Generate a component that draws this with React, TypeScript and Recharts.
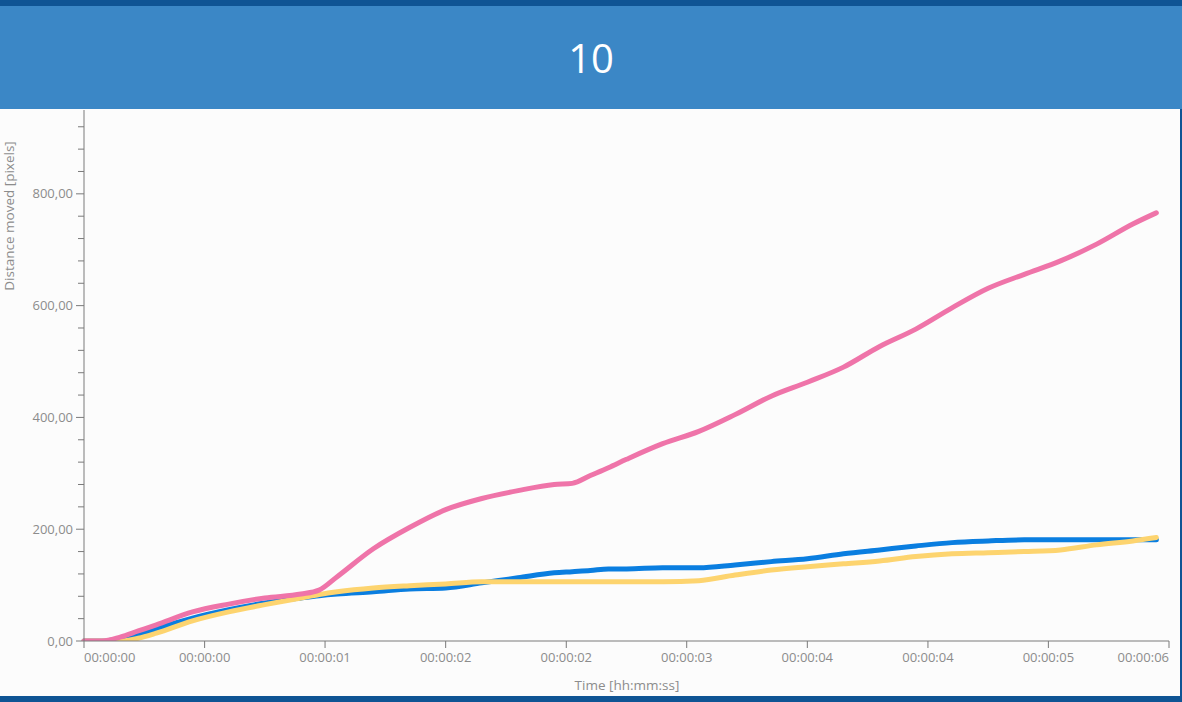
import { LineChart, Line, XAxis, YAxis, Label } from "recharts";

// time in seconds
const times = [
  0, 0.1, 0.2, 0.3, 0.4, 0.6, 0.8, 1.0, 1.2, 1.3, 1.4, 1.6, 1.8, 2.0, 2.2, 2.4, 2.6, 2.7,
  2.8, 2.9, 3.0, 3.2, 3.4, 3.6, 3.8, 4.0, 4.2, 4.4, 4.6, 4.8, 5.0, 5.2, 5.4, 5.6, 5.8, 5.93,
];

const pinkSeries = [
  0, 0, 7, 18, 29, 52, 66, 77, 84, 91, 115, 165, 203, 235, 255, 269, 280, 282,
  296, 310, 325, 353, 375, 405, 438, 463, 490, 527, 558, 596, 631, 656, 680, 710, 746, 766,
];

const blueSeries = [
  0, 0, 4, 11, 22, 41, 56, 68, 77, 81, 84, 88, 93, 95, 104, 113, 122, 124,
  126, 129, 129, 131, 131, 136, 142, 147, 156, 163, 170, 176, 179, 181, 181, 181, 181, 181,
];

const yellowSeries = [
  0, 0, 0, 5, 14, 36, 52, 65, 77, 83, 88, 95, 99, 102, 106, 106, 106, 106,
  106, 106, 106, 106, 108, 118, 127, 133, 138, 143, 151, 156, 158, 160, 163, 172, 179, 185,
];

const xTicks = [0, 0.667, 1.333, 2, 2.667, 3.333, 4, 4.667, 5.333, 6];
const xTickLabels = [
  "00:00:00", "00:00:00", "00:00:01", "00:00:02", "00:00:02",
  "00:00:03", "00:00:04", "00:00:04", "00:00:05", "00:00:06",
];

const yTicks = [
  0, 40, 80, 120, 160, 200, 240, 280, 320, 360, 400, 440, 480, 520, 560, 600, 640, 680,
  720, 760, 800, 840, 880, 920,
];

const data = times.map((t, i) => ({
  t,
  pink: pinkSeries[i],
  blue: blueSeries[i],
  yellow: yellowSeries[i],
}));

const FONT = "'Open Sans', 'Noto Sans', sans-serif";
const AXIS = "#7a7a7a";
const TEXT = "#8c8c8c";

const YTick = (props: any) => {
  const { x, y, payload } = props;
  const major = payload.value % 200 === 0;
  return (
    <g>
      <line x1={major ? x : x + 2} x2={x + 8} y1={y} y2={y} stroke={AXIS} strokeWidth={1} />
      {major && (
        <text
          x={x - 3}
          y={y}
          dy={4.5}
          textAnchor="end"
          fill={TEXT}
          fontSize={13}
          fontFamily={FONT}
        >
          {payload.value.toFixed(2).replace(".", ",")}
        </text>
      )}
    </g>
  );
};

const XTick = (props: any) => {
  const { x, y, payload, index } = props;
  const last = xTicks.length - 1;
  const anchor = index === 0 ? "start" : index === last ? "end" : "middle";
  return (
    <text
      x={x}
      y={y}
      dy={14}
      textAnchor={anchor}
      fill={TEXT}
      fontSize={13}
      fontFamily={FONT}
    >
      {xTickLabels[xTicks.indexOf(payload.value)] ?? ""}
    </text>
  );
};

export default function App() {
  return (
    <div
      style={{
        position: "absolute",
        left: 0,
        top: 0,
        width: 1182,
        height: 702,
        background: "#0f5494",
        overflow: "hidden",
      }}
    >
      <div
        style={{
          position: "absolute",
          left: 0,
          top: 6,
          width: 1182,
          height: 103,
          background: "#3b87c6",
          color: "#ffffff",
          fontFamily: "'Segoe UI', 'Open Sans', sans-serif",
          fontSize: 40,
          lineHeight: "103px",
          textAlign: "center",
        }}
      >
        10
      </div>
      <div
        style={{
          position: "absolute",
          left: 0,
          top: 109,
          width: 1180,
          height: 587,
          background: "#fcfcfc",
        }}
      >
        <LineChart
          width={1180}
          height={587}
          data={data}
          margin={{ top: 1, right: 11, bottom: 0, left: 0 }}
        >
          <XAxis
            dataKey="t"
            type="number"
            domain={[0, 6]}
            ticks={xTicks}
            interval={0}
            height={55}
            stroke={AXIS}
            tickSize={7}
            tickMargin={0}
            tick={<XTick />}
          >
            <Label
              content={() => (
                <text
                  x={627}
                  y={581}
                  textAnchor="middle"
                  fill={TEXT}
                  fontSize={13.5}
                  fontFamily={FONT}
                >
                  Time [hh:mm:ss]
                </text>
              )}
            />
          </XAxis>
          <YAxis
            type="number"
            domain={[0, 950]}
            ticks={yTicks}
            interval={0}
            width={84}
            stroke={AXIS}
            tickLine={false}
            tickSize={8}
            tickMargin={0}
            tick={<YTick />}
            allowDataOverflow
          >
            <Label
              content={() => (
                <text
                  x={0}
                  y={0}
                  transform="translate(14,107) rotate(-90)"
                  textAnchor="middle"
                  fill={TEXT}
                  fontSize={13.5}
                  fontFamily={FONT}
                >
                  Distance moved [pixels]
                </text>
              )}
            />
          </YAxis>
          <Line
            type="monotone"
            dataKey="blue"
            stroke="#0a7ee0"
            strokeWidth={5}
            dot={false}
            strokeLinecap="round"
            isAnimationActive={false}
          />
          <Line
            type="monotone"
            dataKey="yellow"
            stroke="#fdd46f"
            strokeWidth={5}
            dot={false}
            strokeLinecap="round"
            isAnimationActive={false}
          />
          <Line
            type="monotone"
            dataKey="pink"
            stroke="#ef74a9"
            strokeWidth={5}
            dot={false}
            strokeLinecap="round"
            isAnimationActive={false}
          />
        </LineChart>
      </div>
    </div>
  );
}
